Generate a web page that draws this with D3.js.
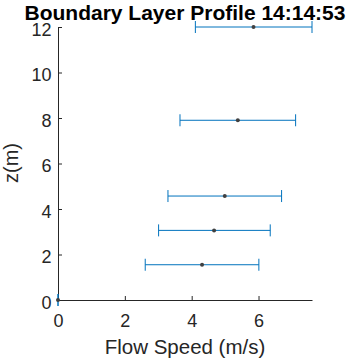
<!DOCTYPE html>
<html>
<head>
<meta charset="utf-8">
<script src="https://cdn.jsdelivr.net/npm/d3@7"></script>
<style>
  html, body { margin: 0; padding: 0; background: #fff; }
  svg { display: block; font-family: "Liberation Sans", Arial, Helvetica, sans-serif; }
</style>
</head>
<body>
<svg id="chart" width="351" height="361"></svg>
<script>
// Measurement heights (m) and mean flow speed with spread (m/s)
const heights = [0, 1.55, 3.06, 4.57, 7.9, 12];
const meanSpeed = [0, 4.31, 4.67, 4.99, 5.38, 5.85];
const lowSpeed = [0, 2.61, 3.01, 3.29, 3.65, 4.11];
const highSpeed = [0, 6.01, 6.35, 6.69, 7.11, 7.6];
const xTicks = [0, 2, 4, 6];
const yTicks = [0, 2, 4, 6, 8, 10, 12];

const svg = d3.select("#chart");
const plot = { left: 58, right: 312, top: 27, bottom: 300 };

const x = d3.scaleLinear().domain([0, 7.6]).range([plot.left, plot.right]);
const y = d3.scaleLinear().domain([0, 12]).range([plot.bottom, plot.top]);

const axisColor = "#262626";

// Axes with inward ticks
const xAxis = svg.append("g")
  .attr("transform", `translate(0,${plot.bottom})`)
  .call(d3.axisBottom(x).tickValues(xTicks).tickSize(-4).tickPadding(14).tickSizeOuter(0));
const yAxis = svg.append("g")
  .attr("transform", `translate(${plot.left},0)`)
  .call(d3.axisLeft(y).tickValues(yTicks).tickSize(-4).tickPadding(6.5).tickSizeOuter(0));

[xAxis, yAxis].forEach(g => {
  g.select(".domain").attr("stroke", axisColor).attr("stroke-width", 1);
  g.selectAll(".tick line").attr("stroke", axisColor);
  g.selectAll(".tick text").attr("fill", axisColor).style("font-size", "18px");
});
yAxis.selectAll(".tick text").attr("dy", "0.45em");

const data = heights.map((z, i) => ({ z, m: meanSpeed[i], lo: lowSpeed[i], hi: highSpeed[i] }));

const blue = "#0072BD";
const cap = 6;
const bars = svg.append("g");

// Horizontal error bars
bars.selectAll("line.err").data(data).join("line")
  .attr("class", "err")
  .attr("x1", d => x(d.lo)).attr("x2", d => x(d.hi))
  .attr("y1", d => y(d.z)).attr("y2", d => y(d.z))
  .attr("stroke", blue).attr("stroke-width", 1);
bars.selectAll("line.capL").data(data).join("line")
  .attr("class", "capL")
  .attr("x1", d => x(d.lo)).attr("x2", d => x(d.lo))
  .attr("y1", d => y(d.z) - cap).attr("y2", d => y(d.z) + cap)
  .attr("stroke", blue).attr("stroke-width", 1);
bars.selectAll("line.capR").data(data).join("line")
  .attr("class", "capR")
  .attr("x1", d => x(d.hi)).attr("x2", d => x(d.hi))
  .attr("y1", d => y(d.z) - cap).attr("y2", d => y(d.z) + cap)
  .attr("stroke", blue).attr("stroke-width", 1);

// Mean markers
bars.selectAll("circle").data(data).join("circle")
  .attr("cx", d => x(d.m)).attr("cy", d => y(d.z))
  .attr("r", 2)
  .attr("fill", "#404040");

// Title and axis labels
svg.append("text")
  .attr("x", (plot.left + plot.right) / 2).attr("y", 20)
  .attr("text-anchor", "middle")
  .style("font-size", "21px").style("font-weight", "bold")
  .attr("fill", "#000")
  .text("Boundary Layer Profile 14:14:53");

svg.append("text")
  .attr("x", (plot.left + plot.right) / 2).attr("y", 354)
  .attr("text-anchor", "middle")
  .style("font-size", "20.5px")
  .attr("fill", axisColor)
  .text("Flow Speed (m/s)");

svg.append("text")
  .attr("transform", `translate(18,163) rotate(-90)`)
  .attr("text-anchor", "middle")
  .style("font-size", "20px")
  .attr("fill", axisColor)
  .text("z(m)");
</script>
</body>
</html>
